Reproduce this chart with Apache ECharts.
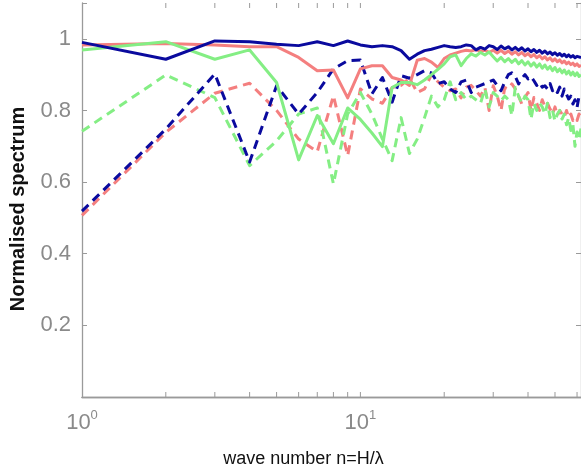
<!DOCTYPE html>
<html><head><meta charset="utf-8">
<script src="https://cdn.jsdelivr.net/npm/echarts@6/dist/echarts.min.js"></script>
<style>html,body{margin:0;padding:0;background:#fff}#c{width:581px;height:474px}</style>
</head><body><div id="c"></div>
<script>
// wave numbers n = 1..62
var waveNumbers = [];
for (var i = 1; i <= 62; i++) waveNumbers.push(i);

var blueSolid = [0.990,0.943,0.994,0.992,0.985,0.981,0.992,0.981,0.994,0.983,
  0.978,0.981,0.978,0.967,0.943,0.957,0.967,0.971,0.976,0.981,
  0.978,0.976,0.978,0.983,0.981,0.969,0.976,0.971,0.981,0.978,
  0.970,0.980,0.972,0.978,0.969,0.976,0.968,0.975,0.966,0.972,
  0.964,0.970,0.962,0.968,0.960,0.966,0.958,0.963,0.956,0.961,
  0.954,0.959,0.952,0.957,0.950,0.955,0.949,0.953,0.947,0.951,0.946,0.948];
var redSolid = [0.983,0.987,0.983,0.978,0.978,0.948,0.911,0.913,0.835,0.916,
  0.925,0.925,0.892,0.885,0.870,0.940,0.945,0.935,0.920,0.945,
  0.955,0.960,0.965,0.968,0.966,0.970,0.965,0.968,0.962,0.968,
  0.960,0.968,0.959,0.966,0.957,0.964,0.955,0.962,0.953,0.959,
  0.950,0.956,0.947,0.953,0.944,0.950,0.941,0.947,0.938,0.944,
  0.936,0.941,0.933,0.938,0.930,0.935,0.928,0.932,0.925,0.930,0.923,0.926];
var greenSolid = [0.969,0.992,0.943,0.969,0.878,0.662,0.786,0.707,0.807,0.775,
  0.737,0.699,0.864,0.878,0.878,0.872,0.885,0.900,0.915,0.930,
  0.950,0.955,0.925,0.945,0.958,0.952,0.962,0.955,0.963,0.950,
  0.938,0.948,0.936,0.945,0.934,0.943,0.930,0.939,0.927,0.936,
  0.924,0.933,0.921,0.930,0.918,0.927,0.915,0.923,0.911,0.920,
  0.908,0.916,0.905,0.913,0.902,0.910,0.899,0.907,0.897,0.905,0.895,0.900];
var blueDashed = [0.519,0.748,0.902,0.656,0.869,0.790,0.850,0.916,0.939,0.941,
  0.846,0.892,0.823,0.897,0.890,0.900,0.911,0.905,0.875,0.880,
  0.860,0.850,0.880,0.885,0.850,0.865,0.870,0.875,0.880,0.885,
  0.870,0.855,0.880,0.900,0.905,0.895,0.874,0.890,0.900,0.888,
  0.895,0.883,0.870,0.878,0.865,0.869,0.860,0.875,0.855,0.862,
  0.850,0.865,0.840,0.860,0.845,0.832,0.840,0.818,0.830,0.808,0.840,0.832];
var redDashed = [0.507,0.739,0.848,0.876,0.800,0.720,0.685,0.841,0.674,0.860,
  0.832,0.820,0.864,0.870,0.890,0.850,0.860,0.900,0.880,0.865,
  0.855,0.860,0.835,0.865,0.870,0.855,0.840,0.864,0.800,0.869,
  0.841,0.800,0.864,0.860,0.874,0.860,0.840,0.818,0.836,0.850,
  0.800,0.836,0.820,0.800,0.830,0.810,0.820,0.804,0.790,0.810,
  0.786,0.800,0.790,0.781,0.800,0.780,0.790,0.772,0.780,0.772,0.790,0.780];
var greenDashed = [0.742,0.899,0.836,0.646,0.715,0.790,0.807,0.595,0.790,0.850,
  0.790,0.720,0.660,0.780,0.680,0.720,0.780,0.840,0.810,0.830,
  0.880,0.830,0.850,0.830,0.840,0.830,0.820,0.860,0.810,0.850,
  0.840,0.827,0.840,0.830,0.786,0.864,0.840,0.820,0.840,0.830,
  0.776,0.820,0.800,0.820,0.810,0.790,0.820,0.780,0.800,0.770,
  0.790,0.800,0.776,0.790,0.760,0.780,0.744,0.760,0.700,0.740,0.720,0.750];

var yTicks = [0.2, 0.4, 0.6, 0.8, 1];
var xTickMarks = [2,3,4,5,6,7,8,9,10,20,30,40,50,60];

var colBlue = '#0a0a9e', colRed = '#f47f7f', colGreen = '#84ee84';
var FONT = 'Liberation Sans';

function pairs(arr){ return arr.map(function(v,i){ return [waveNumbers[i], v]; }); }
function mk(name, arr, color, dashed){
  return { name: name, type: 'line', data: pairs(arr), xAxisIndex: 0, yAxisIndex: 0,
    showSymbol: false, symbol: 'none', clip: true, animation: false,
    lineStyle: { color: color, width: 3, type: dashed ? [9, 6] : 'solid', cap: 'butt', join: 'round' } };
}
var axisGray = '#9a9a9a';
var chart = echarts.init(document.getElementById('c'), null, { renderer: 'canvas' });
var option = {
  animation: false,
  backgroundColor: '#fff',
  grid: { left: 82, right: 0, top: 3, bottom: 77, containLabel: false, outerBoundsMode: 'none' },
  xAxis: [
    { type: 'log', logBase: 10, min: 1, max: 62, interval: 1, position: 'bottom',
      name: 'wave number n=H/\u03bb', nameLocation: 'middle', nameGap: 53,
      nameTextStyle: { fontFamily: FONT, fontSize: 18, color: '#111', padding: [0, 56, 0, 0] },
      axisLine: { show: true, lineStyle: { color: axisGray, width: 1.3 } },
      axisTick: { show: false }, splitLine: { show: false },
      axisLabel: { margin: 12, color: '#8a8a8a', fontFamily: FONT,
        formatter: function(v){ var l = Math.log10(v); if (Math.abs(l - Math.round(l)) > 1e-6) return ''; return '{b|10}{s|' + Math.round(l) + '}'; },
        rich: { b: { fontSize: 22, color: '#8a8a8a', fontFamily: FONT, verticalAlign: 'bottom' },
                s: { fontSize: 13, color: '#8a8a8a', fontFamily: FONT, verticalAlign: 'top', padding: [0,0,12,0] } } } },
    { type: 'log', logBase: 10, min: 1, max: 62, interval: 1, position: 'top',
      axisLine: { show: true, lineStyle: { color: axisGray, width: 1.3 } },
      axisTick: { show: false }, axisLabel: { show: false }, splitLine: { show: false } }
  ],
  yAxis: [
    { type: 'value', min: 0, max: 1.1, interval: 0.2, position: 'left',
      name: 'Normalised spectrum', nameLocation: 'middle', nameGap: 54,
      nameTextStyle: { fontFamily: FONT, fontSize: 20, fontWeight: 'bold', color: '#111', padding: [0, 18, 0, 0] },
      axisLine: { show: true, lineStyle: { color: axisGray, width: 1.3 } },
      axisTick: { show: true, inside: true, length: 5, lineStyle: { color: axisGray } },
      splitLine: { show: false },
      axisLabel: { margin: 11, color: '#8a8a8a', fontFamily: FONT, fontSize: 22,
        formatter: function(v){ for (var k=0;k<yTicks.length;k++){ if (Math.abs(v-yTicks[k])<1e-6) return v===1?'1':String(yTicks[k]); } return ''; } } },
    { type: 'value', min: 0, max: 1.1, interval: 0.2, position: 'right',
      axisLine: { show: true, lineStyle: { color: axisGray, width: 1.3 } },
      axisTick: { show: true, inside: true, length: 5, lineStyle: { color: axisGray } },
      axisLabel: { show: false }, splitLine: { show: false } }
  ],
  series: [
    mk('rd', redDashed, colRed, true),
    mk('gd', greenDashed, colGreen, true),
    mk('bd', blueDashed, colBlue, true),
    mk('rs', redSolid, colRed, false),
    mk('gs', greenSolid, colGreen, false),
    mk('bs', blueSolid, colBlue, false)
  ]
};
chart.setOption(option);
var els = [];
var yb = chart.convertToPixel({ yAxisIndex: 0 }, 0);
var yt = chart.convertToPixel({ yAxisIndex: 0 }, 1.1);
xTickMarks.forEach(function(t){
  var x = chart.convertToPixel({ xAxisIndex: 0 }, t);
  els.push({ type: 'line', shape: { x1: x, y1: yb, x2: x, y2: yb - 5 }, style: { stroke: axisGray, lineWidth: 1 }, silent: true });
  els.push({ type: 'line', shape: { x1: x, y1: yt, x2: x, y2: yt + 5 }, style: { stroke: axisGray, lineWidth: 1 }, silent: true });
});
chart.setOption({ graphic: { elements: els } });
</script></body></html>
